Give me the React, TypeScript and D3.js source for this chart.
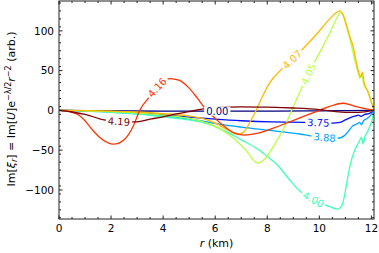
import React from "react";
import * as d3 from "d3";

const W = 379;
const H = 253;

// eigenvalue labels (series names)
const seriesNames = ["0.00", "3.75", "3.88", "4.00", "4.05", "4.07", "4.16", "4.19"];

// each series: [r (km), Im[xi_r] (arb.)]
const s000: [number, number][] = [[0, 0], [2, -0.5], [4, -1], [6, -1], [8, -1], [10, -0.5], [12.1, 0]];
const s375: [number, number][] = [[0, 0], [1, -0.5], [2, -1.5], [3, -3], [4, -5.5], [5, -8.5], [6, -11], [7, -13], [8.2, -14.5], [9.5, -15], [10.0, -15.5], [10.5, -16], [10.8, -15], [11.0, -12], [11.2, -9], [11.4, -7], [11.5, -6], [11.6, -7.5], [11.75, -5], [11.9, -4], [12.1, 0]];
const s388: [number, number][] = [[0, 0], [1, -0.7], [2, -2], [3, -4], [4, -7], [5, -11], [5.4, -13], [6.3, -18], [7, -21], [8.2, -25.5], [9.3, -30], [9.65, -32], [10.2, -34], [10.7, -35], [10.95, -32], [11.1, -27], [11.3, -19], [11.45, -17], [11.55, -15], [11.62, -18], [11.7, -13], [11.85, -10], [12.0, -5], [12.1, 0]];
const s400: [number, number][] = [[0, 0], [1, -0.8], [2, -2.5], [3, -4.5], [4, -8], [5, -12], [5.5, -15], [5.9, -19], [6.5, -28], [7, -37], [7.6, -48], [8, -58], [8.4, -69], [8.8, -85], [9.27, -102], [9.6, -109], [10, -116], [10.4, -121], [10.7, -124], [10.85, -121], [10.95, -110], [11.05, -92], [11.15, -74], [11.3, -55], [11.45, -44], [11.55, -38], [11.62, -34], [11.68, -42], [11.75, -33], [11.85, -27], [11.95, -19], [12.05, -9], [12.1, 0]];
const s405: [number, number][] = [[0, 0], [1, -0.5], [2, -1.5], [3, -3], [4, -6], [5, -10], [5.5, -14], [6, -20], [6.5, -30], [7, -44], [7.3, -55], [7.6, -66], [7.9, -61], [8.3, -42], [8.7, -18], [9.0, 5], [9.35, 30], [9.6, 47], [10.0, 72], [10.4, 97], [10.7, 118], [10.8, 123], [10.9, 121], [11.0, 110], [11.2, 86], [11.4, 58], [11.5, 46], [11.55, 40], [11.62, 46], [11.7, 33], [11.85, 25], [12.0, 12], [12.1, 0]];
const s407: [number, number][] = [[0, 0], [1, -0.3], [2, -1], [3, -2], [4, -4], [5, -7], [5.5, -10], [6, -16], [6.5, -25], [6.85, -30], [7.1, -27], [7.35, -14], [7.6, 2], [7.85, 20], [8.1, 35], [8.5, 50], [8.96, 64], [9.3, 75], [9.9, 96], [10.4, 115], [10.7, 124], [10.8, 125], [10.9, 121], [11.0, 112], [11.15, 95], [11.3, 80], [11.45, 56], [11.55, 44], [11.6, 42], [11.65, 48], [11.72, 35], [11.85, 25], [12.0, 10], [12.1, 0]];
const s416: [number, number][] = [[0, 0], [0.4, -1.5], [0.77, -6], [1.0, -13], [1.27, -24], [1.6, -35], [2.1, -42.5], [2.5, -37], [2.85, -20], [3.1, 0], [3.5, 18], [3.8, 30], [4.0, 36], [4.27, 40], [4.6, 38], [5.0, 28], [5.3, 16], [5.6, 3], [5.9, -7], [6.2, -16], [6.7, -28], [7.1, -31], [7.6, -29], [8.5, -19], [9.2, -10], [9.8, -2.5], [10.4, 5], [10.9, 9], [11.2, 7], [11.5, 4], [11.8, 2], [12.1, 0]];
const s419: [number, number][] = [[0, 0], [0.5, -2], [1.0, -5], [1.73, -12], [2.3, -14], [2.9, -14.5], [3.5, -11], [4.0, -8], [4.5, -4.5], [5.0, -1.5], [5.5, 1.5], [6.0, 3.5], [7.0, 4.5], [8.0, 4], [9.0, 3], [10.0, 1], [10.5, -1], [11.0, -2.5], [11.5, -2.5], [12.1, 0]];

const seriesData = [s000, s375, s388, s400, s405, s407, s416, s419];

// r position (km) of each inline label
const labelR = [6.08, 9.96, 10.2, 9.77, 9.58, 8.96, 3.77, 2.3];

const xTicks = [0, 2, 4, 6, 8, 10, 12];
const yTicks = [-100, -50, 0, 50, 100];

// matplotlib "jet" colormap
function jet(t: number): string {
  const seg = (pts: number[][]) => {
    for (let i = 0; i < pts.length - 1; i++) {
      const [a, va] = pts[i];
      const [b, vb] = pts[i + 1];
      if (t >= a && t <= b) return va + ((t - a) / (b - a)) * (vb - va);
    }
    return pts[pts.length - 1][1];
  };
  const r = seg([[0, 0], [0.35, 0], [0.66, 1], [0.89, 1], [1, 0.5]]);
  const g = seg([[0, 0], [0.125, 0], [0.375, 1], [0.64, 1], [0.91, 0], [1, 0]]);
  const b = seg([[0, 0.5], [0.11, 1], [0.34, 1], [0.65, 0], [1, 0]]);
  return d3.rgb(r * 255, g * 255, b * 255).formatHex();
}

const FONT = "DejaVu Sans, Liberation Sans, sans-serif";

export default function App() {
  const left = 59, right = 374, top = 1, bottom = 219;
  const x = d3.scaleLinear().domain([0, 12.1]).range([left, right]);
  const y = d3.scaleLinear().domain([-136.5, 137.5]).range([bottom, top]);
  const line = d3
    .line<[number, number]>()
    .x((d) => x(d[0]))
    .y((d) => y(d[1]))
    .curve(d3.curveMonotoneX);

  const interp = (data: [number, number][], r: number) => {
    for (let i = 0; i < data.length - 1; i++) {
      const [r0, v0] = data[i];
      const [r1, v1] = data[i + 1];
      if (r >= r0 && r <= r1) return v0 + ((r - r0) / (r1 - r0)) * (v1 - v0);
    }
    return 0;
  };

  const n = seriesNames.length;
  const colors = seriesNames.map((_, i) => jet(i / (n - 1)));

  const xMinor = d3.range(0, 12.1, 0.5).filter((v) => Math.abs(v % 2) > 1e-9);
  const yMinor = d3.range(-135, 137, 10).filter((v) => Math.abs(v % 50) > 1e-9);

  const tickColor = "#222";
  const labFont = 10;

  return (
    <svg width={W} height={H} style={{ position: "absolute", left: 0, top: 0, background: "#fff" }}>
      <defs>
        <clipPath id="plotclip">
          <rect x={left} y={top} width={right - left} height={bottom - top} />
        </clipPath>
      </defs>
      <g clipPath="url(#plotclip)">
        {seriesData.map((d, i) => (
          <path key={i} d={line(d) || ""} fill="none" stroke={colors[i]} strokeWidth={1.3} />
        ))}
        {seriesData.map((d, i) => {
          const r = labelR[i];
          const v = interp(d, r);
          const px = x(r), py = y(v);
          const dx = x(r + 0.2) - x(r - 0.2);
          const dy = y(interp(d, r + 0.2)) - y(interp(d, r - 0.2));
          const ang = (Math.atan2(dy, dx) * 180) / Math.PI;
          const w = labFont * 2.226;
          return (
            <g key={"l" + i} transform={`translate(${px},${py}) rotate(${ang})`}>
              <rect x={-w / 2 - 2} y={-labFont * 0.45} width={w + 4} height={labFont * 0.9} fill="#fff" />
              <text
                x={0}
                y={0}
                dy="0.36em"
                textAnchor="middle"
                fontFamily={FONT}
                fontSize={labFont}
                fill={colors[i]}
              >
                {seriesNames[i]}
              </text>
            </g>
          );
        })}
      </g>
      {/* frame */}
      <rect x={left} y={top} width={right - left} height={bottom - top} fill="none" stroke={tickColor} strokeWidth={1} />
      {/* x ticks */}
      {xTicks.map((t) => (
        <g key={"xt" + t}>
          <line x1={x(t)} x2={x(t)} y1={bottom} y2={bottom - 3.5} stroke={tickColor} />
          <line x1={x(t)} x2={x(t)} y1={top} y2={top + 3.5} stroke={tickColor} />
          <text x={x(t)} y={bottom + 13} textAnchor="middle" fontFamily={FONT} fontSize={10.5} fill="#000">
            {t}
          </text>
        </g>
      ))}
      {xMinor.map((t) => (
        <g key={"xm" + t}>
          <line x1={x(t)} x2={x(t)} y1={bottom} y2={bottom - 2} stroke={tickColor} />
          <line x1={x(t)} x2={x(t)} y1={top} y2={top + 2} stroke={tickColor} />
        </g>
      ))}
      {yTicks.map((t) => (
        <g key={"yt" + t}>
          <line x1={left} x2={left + 3.5} y1={y(t)} y2={y(t)} stroke={tickColor} />
          <line x1={right} x2={right - 3.5} y1={y(t)} y2={y(t)} stroke={tickColor} />
          <text x={left - 5} y={y(t)} dy="0.36em" textAnchor="end" fontFamily={FONT} fontSize={10.5} fill="#000">
            {t < 0 ? "\u2212" + Math.abs(t) : t}
          </text>
        </g>
      ))}
      {yMinor.map((t) => (
        <g key={"ym" + t}>
          <line x1={left} x2={left + 2} y1={y(t)} y2={y(t)} stroke={tickColor} />
          <line x1={right} x2={right - 2} y1={y(t)} y2={y(t)} stroke={tickColor} />
        </g>
      ))}
      {/* x label */}
      <text x={(left + right) / 2} y={247} textAnchor="middle" fontFamily={FONT} fontSize={11} fill="#000">
        <tspan fontStyle="italic">r</tspan>
        <tspan> (km)</tspan>
      </text>
      {/* y label */}
      <text
        transform={`translate(15,${(top + bottom) / 2 - 1}) rotate(-90)`}
        textAnchor="middle"
        fontFamily={FONT}
        fontSize={11}
        fill="#000"
      >
        <tspan>Im[</tspan>
        <tspan fontStyle="italic">ξ</tspan>
        <tspan fontStyle="italic" fontSize={8} dy={2}>r</tspan>
        <tspan dy={-2}>] = Im[</tspan>
        <tspan fontStyle="italic">U</tspan>
        <tspan>]e</tspan>
        <tspan fontSize={8} dy={-4}>−λ/2</tspan>
        <tspan fontStyle="italic" dy={4}>r</tspan>
        <tspan fontSize={8} dy={-4}>−2</tspan>
        <tspan dy={4}> (arb.)</tspan>
      </text>
    </svg>
  );
}
